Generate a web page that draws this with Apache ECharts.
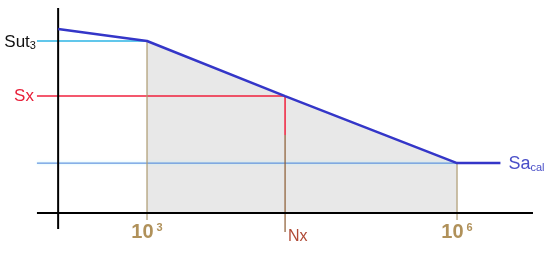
<!DOCTYPE html>
<html>
<head>
<meta charset="utf-8">
<script src="https://cdn.jsdelivr.net/npm/echarts@6/dist/echarts.min.js"></script>
<style>
html,body{margin:0;padding:0;background:#fff;}
#main{width:550px;height:259px;}
</style>
</head>
<body>
<div id="main"></div>
<script>
// x = log10(N), y = stress (Sut3 = 100)
var curveLogN = [2.14, 3, 4.336, 6, 6.42];   // S-N curve
var curveS = [107, 100, 68, 29, 29];
var levelNames = ['Sut', 'Sx', 'Sa'];
var levelS = [100, 68, 29];                  // Sut3, Sx, Sacal
var cycleLogN = [3, 4.336, 6];               // 10^3, Nx, 10^6
var cycleLabels = ['10', 'Nx', '10'];
var cycleSup = ['3', '', '6'];
var axisLogN = 2.14;                         // where the S axis stands
var xRange = [1.935, 6.735];
var yRange = [-9.3, 119.2];
var guideStart = 1.935;
var tickBottom = -4.1;
var nxRedBottom = 45.3;
var nxTickBottom = -11;

var myChart = echarts.init(document.getElementById('main'));

var curveData = [];
for (var i = 0; i < curveLogN.length; i++) {
	curveData.push([curveLogN[i], curveS[i]]);
}
// area under the curve between 10^3 and 10^6
var areaData = [];
for (var i = 1; i < 4; i++) {
	areaData.push([curveLogN[i], curveS[i]]);
}

var series = [];
series.push({
	type: 'line', data: areaData, symbol: 'none', silent: true,
	lineStyle: {width: 0}, areaStyle: {color: '#e8e8e8', opacity: 1}, z: 1
});
// axes
series.push({
	type: 'line', data: [[xRange[0], 0], [xRange[1], 0]], symbol: 'none',
	lineStyle: {color: '#000', width: 2}, z: 5
});
series.push({
	type: 'line', data: [[axisLogN, yRange[0]], [axisLogN, yRange[1]]], symbol: 'none',
	lineStyle: {color: '#000', width: 2}, z: 5
});
// Sut3 guide
series.push({
	type: 'line', data: [[guideStart, levelS[0]], [cycleLogN[0], levelS[0]]], symbol: 'none',
	lineStyle: {color: '#2cb4e4', width: 1.5}, z: 3,
	markPoint: {
		symbol: 'circle', symbolSize: 0,
		data: [{coord: [guideStart, levelS[0]]}],
		label: {
			show: true, position: 'left', distance: 1,
			formatter: '{a|' + levelNames[0] + '}{b|3}',
			rich: {
				a: {fontSize: 17, color: '#111', fontFamily: 'Liberation Sans', lineHeight: 20, verticalAlign: 'bottom'},
				b: {fontSize: 11, color: '#111', fontFamily: 'Liberation Sans', lineHeight: 20, verticalAlign: 'bottom'}
			}
		}
	}
});
// Sx guide
series.push({
	type: 'line', data: [[guideStart, levelS[1]], [cycleLogN[1], levelS[1]]], symbol: 'none',
	lineStyle: {color: '#f0203c', width: 1.5}, z: 3,
	markPoint: {
		symbol: 'circle', symbolSize: 0,
		data: [{coord: [guideStart, levelS[1]]}],
		label: {
			show: true, position: 'left', distance: 3, formatter: levelNames[1],
			color: '#e8203a', fontSize: 17, fontFamily: 'Liberation Sans'
		}
	}
});
// Sacal guide
series.push({
	type: 'line', data: [[guideStart, levelS[2]], [cycleLogN[2], levelS[2]]], symbol: 'none',
	lineStyle: {color: '#4a7fd8', width: 1, shadowColor: '#a8f0ff', shadowBlur: 3}, z: 3
});
// verticals at 10^3 and 10^6
for (var k = 0; k < 3; k += 2) {
	series.push({
		type: 'line', data: [[cycleLogN[k], curveS[k + 1]], [cycleLogN[k], tickBottom]], symbol: 'none',
		lineStyle: {color: '#ad9a70', width: 1.2}, z: 3,
		markPoint: {
			symbol: 'circle', symbolSize: 0,
			data: [{coord: [cycleLogN[k], tickBottom]}],
			label: {
				show: true, position: 'bottom', distance: 2,
				formatter: '{a|' + cycleLabels[k] + '}{b|' + cycleSup[k] + '}',
				rich: {
					a: {fontSize: 20, fontWeight: 'bold', color: '#b0915a', fontFamily: 'Liberation Sans', lineHeight: 21, verticalAlign: 'top'},
					b: {fontSize: 11, fontWeight: 'bold', color: '#b0915a', fontFamily: 'Liberation Sans', lineHeight: 21, verticalAlign: 'top', padding: [0, 0, 0, 3]}
				}
			}
		}
	});
}
// Nx vertical
series.push({
	type: 'line', data: [[cycleLogN[1], levelS[1]], [cycleLogN[1], nxRedBottom]], symbol: 'none',
	lineStyle: {color: '#f0203c', width: 1.5}, z: 3
});
series.push({
	type: 'line', data: [[cycleLogN[1], nxRedBottom], [cycleLogN[1], nxTickBottom]], symbol: 'none',
	lineStyle: {color: '#8a5a30', width: 1.2}, z: 3,
	markPoint: {
		symbol: 'circle', symbolSize: 0,
		data: [{coord: [cycleLogN[1], nxTickBottom]}],
		label: {
			show: true, position: 'right', distance: 3, offset: [0, 5], formatter: cycleLabels[1],
			color: '#b04a36', fontSize: 16, fontFamily: 'Liberation Sans'
		}
	}
});
// S-N curve
series.push({
	type: 'line', data: curveData, symbol: 'none',
	lineStyle: {color: '#3436c8', width: 2.5}, z: 6,
	markPoint: {
		symbol: 'circle', symbolSize: 0,
		data: [{coord: curveData[curveData.length - 1]}],
		label: {
			show: true, position: 'right', distance: 8,
			formatter: '{a|' + levelNames[2] + '}{b|cal}',
			rich: {
				a: {fontSize: 18, color: '#4a4fc8', fontFamily: 'Liberation Sans', lineHeight: 20, verticalAlign: 'bottom'},
				b: {fontSize: 11, color: '#4a4fc8', fontFamily: 'Liberation Sans', lineHeight: 20, verticalAlign: 'bottom'}
			}
		}
	}
});

var option = {
	animation: false,
	backgroundColor: '#fff',
	grid: {left: 23, right: 10.3, top: 6.6, bottom: 11.6},
	xAxis: {type: 'value', min: 1.8, max: 6.8, show: false},
	yAxis: {type: 'value', min: -20, max: 120, show: false},
	series: series
};
myChart.setOption(option);
</script>
</body>
</html>
